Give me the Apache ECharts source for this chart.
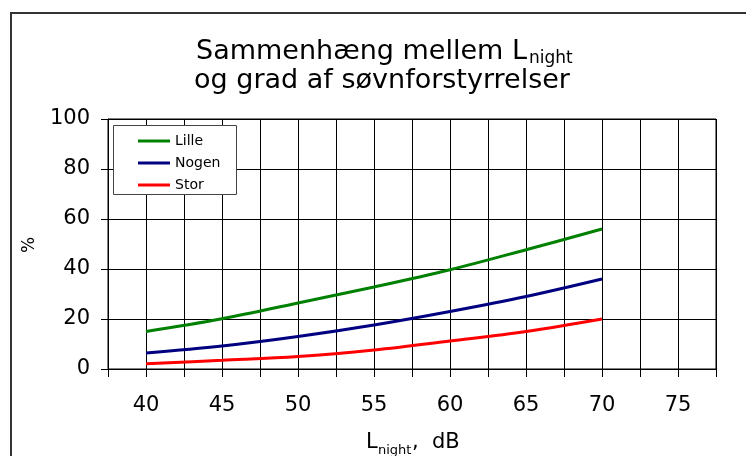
<!DOCTYPE html>
<html>
<head>
<meta charset="utf-8">
<script src="https://cdn.jsdelivr.net/npm/echarts@6/dist/echarts.min.js"></script>
<style>
html,body{margin:0;padding:0;background:#fff;}
#c{width:746px;height:456px;}
</style>
</head>
<body>
<div id="c"></div>
<script>
// ---- data ----
var xValues = [40, 45, 50, 55, 60, 65, 70];
var seriesNames = ['Lille', 'Nogen', 'Stor'];
var lilleValues = [15.0, 20.1, 26.4, 32.8, 39.7, 47.7, 56.0];
var nogenValues = [6.4, 9.2, 13.0, 17.6, 23.0, 29.0, 36.0];
var storValues  = [2.1, 3.5, 5.0, 7.6, 11.2, 15.0, 20.0];
var titleLine1 = 'Sammenhæng mellem L';
var titleSub = 'night';
var titleLine2 = 'og grad af søvnforstyrrelser';
var yAxisName = '%';
var xAxisNameMain = 'L';
var xAxisNameSub = 'night';
var xAxisNameTail = ',  dB';

function pairs(vals) {
  return xValues.map(function (x, i) { return [x, vals[i]]; });
}

var FONT = '"DejaVu Sans", Verdana, sans-serif';
var chart = echarts.init(document.getElementById('c'), null, {renderer: 'canvas'});

var colors = ['#008000', '#000080', '#ff0000'];
var allVals = [lilleValues, nogenValues, storValues];

var option = {
  animation: false,
  backgroundColor: '#fff',
  grid: {left: 108, top: 119, right: 30, bottom: 87, show: true, borderColor: '#000', borderWidth: 1},
  legend: {
    orient: 'vertical',
    left: 133, top: 128,
    z: 6,
    itemWidth: 32, itemHeight: 3, itemGap: 6,
    icon: 'rect',
    textStyle: {fontFamily: FONT, fontSize: 14, color: '#000', lineHeight: 16},
    data: seriesNames
  },
  xAxis: {
    type: 'value', min: 37.5, max: 77.5, interval: 2.5,
    axisLine: {show: true, lineStyle: {color: '#000', width: 1}},
    axisTick: {show: true, inside: false, length: 8, lineStyle: {color: '#000'}},
    axisLabel: {
      margin: 26, color: '#000', fontFamily: FONT, fontSize: 21,
      formatter: function (v) { return (v % 5 === 0) ? String(v) : ''; }
    },
    splitLine: {show: true, lineStyle: {color: '#000', width: 1}}
  },
  yAxis: {
    type: 'value', min: 0, max: 100, interval: 20,
    axisLine: {show: true, lineStyle: {color: '#000', width: 1}},
    axisTick: {show: true, inside: false, length: 7, lineStyle: {color: '#000'}},
    axisLabel: {margin: 18, color: '#000', fontFamily: FONT, fontSize: 21},
    splitLine: {show: true, lineStyle: {color: '#000', width: 1}}
  },
  series: seriesNames.map(function (n, i) {
    return {
      name: n, type: 'line', data: pairs(allVals[i]), smooth: 0.35,
      showSymbol: false, symbol: 'none',
      lineStyle: {color: colors[i], width: 3},
      itemStyle: {color: colors[i]},
      z: 2
    };
  }),
  graphic: [
    {type: 'rect', z: 0, silent: true,
     shape: {x: 11, y: 13, width: 800, height: 500},
     style: {fill: 'none', stroke: '#333', lineWidth: 2}},
    {type: 'rect', z: 5, silent: true,
     shape: {x: 113.5, y: 125.5, width: 123, height: 69},
     style: {fill: '#fff', stroke: '#444', lineWidth: 1}},
    {type: 'text', z: 10, style: {text: titleLine1, x: 527, y: 51.5, textAlign: 'right', textVerticalAlign: 'middle', font: '27px ' + FONT, fill: '#000'}},
    {type: 'text', z: 10, style: {text: titleSub, x: 529, y: 58.5, textAlign: 'left', textVerticalAlign: 'middle', font: '17px ' + FONT, fill: '#000'}},
    {type: 'text', z: 10, style: {text: titleLine2, x: 382, y: 81, textAlign: 'center', textVerticalAlign: 'middle', font: '27px ' + FONT, fill: '#000'}},
    {type: 'text', z: 10, rotation: Math.PI / 2, x: 30, y: 245,
     style: {text: yAxisName, x: 0, y: 0, textAlign: 'center', textVerticalAlign: 'middle', font: '17px ' + FONT, fill: '#000'}},
    {type: 'text', z: 10, style: {text: xAxisNameMain, x: 366, y: 443, textAlign: 'left', textVerticalAlign: 'middle', font: '21px ' + FONT, fill: '#000'}},
    {type: 'text', z: 10, style: {text: xAxisNameSub, x: 378, y: 451, textAlign: 'left', textVerticalAlign: 'middle', font: '13px ' + FONT, fill: '#000'}},
    {type: 'text', z: 10, style: {text: xAxisNameTail, x: 412, y: 443, textAlign: 'left', textVerticalAlign: 'middle', font: '21px ' + FONT, fill: '#000'}}
  ]
};
chart.setOption(option);
</script>
</body>
</html>
